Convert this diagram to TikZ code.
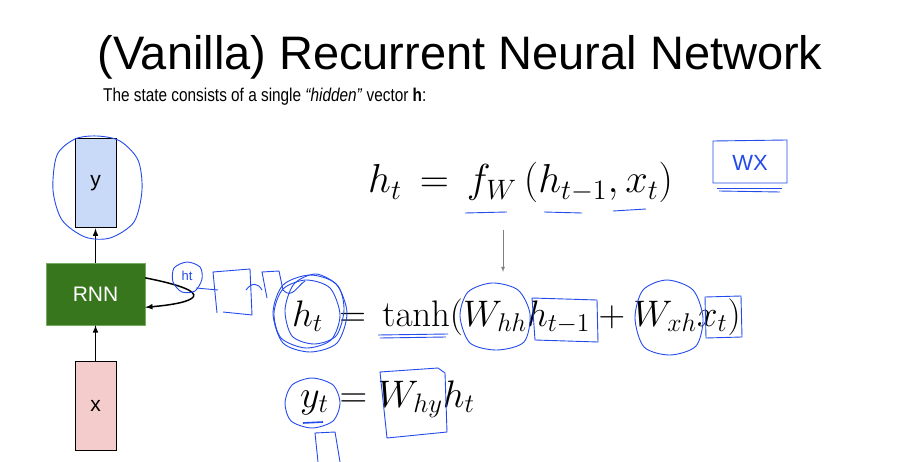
\documentclass[tikz,border=0pt]{standalone}
\usepackage{amsmath}
\usepackage[no-math]{fontspec}
\setmainfont{Liberation Sans}
\usepackage{xcolor}
\usepackage{tikz}
\usetikzlibrary{calc}
\usetikzlibrary{positioning}
\definecolor{yfill}{RGB}{201,218,248}
\definecolor{xfill}{RGB}{244,204,204}
\definecolor{rnnfill}{RGB}{56,118,29}
\definecolor{rnnline}{RGB}{120,170,100}
\definecolor{penblue}{RGB}{35,75,235}

\begin{document}
\begin{tikzpicture}[x=1pt,y=-1pt,
	vecbox/.style={draw,line width=1,minimum width=41,minimum height=89,font=\fontsize{21}{24}\selectfont},
	penline/.style={penblue,line width=0.9},
	eqn/.style={anchor=base west,inner sep=0,font=\fontsize{20.74}{24}\selectfont}]
	\useasboundingbox (0,0) rectangle (907,462);
	
	\node [anchor=base,inner sep=0,font=\fontsize{47}{50}\selectfont] (title) at (460,70) {(Vanilla) Recurrent Neural Network};
	\node [anchor=base west,inner sep=0,font=\fontsize{18.5}{22}\selectfont] (sub) at (103,102) {\scalebox{0.83}[1]{The state consists of a single \textit{“hidden”} vector \textbf{h}:}};
	
	% the network
	\node [vecbox,fill=yfill] (ybox) at (95.5,183.5) {y};
	\node [draw=rnnline,fill=rnnfill,text=white,minimum width=99,minimum height=62,font=\fontsize{21}{24}\selectfont] (rnn) at (95.5,294) {RNN};
	\node [vecbox,fill=xfill] (xbox) at (95.5,405.5) {x};
	
	\draw[line width=1.5,-latex] (rnn) -- (ybox);
	\draw[line width=1.5,-latex] (xbox) -- (rnn);
	\draw[line width=1.5,-latex] (rnn.18) .. controls (222,293) and (195,303) .. (rnn.-15);
	
	% the equations
	\node [eqn] (eqf) at (368,193) {\scalebox{1.95}{$h_t \,=\, f_W\,(h_{t-1}, x_t)$}};
	\node [eqn] (eqh) at (292,326) {\scalebox{1.78}{$h_t \,=\, \tanh(W_{hh}h_{t-1} + W_{xh}x_t)$}};
	\node [eqn] (eqy) at (300,407) {\scalebox{1.85}{$y_t = W_{hy}h_t$}};
	
	\coordinate [] (G1) at (503,230);
	\coordinate [] (G2) at (503,272);
	\draw[gray,line width=0.8,-latex] (G1) -- (G2);
	
	% pen notes
	\draw[penline] plot [smooth cycle] coordinates {(97,136) (120,141) (138,160) (142,190) (134,222) (110,238) (85,237) (62,220) (53,190) (57,155) (75,139)};
	\draw[penline] plot [smooth cycle] coordinates {(187,262) (200,267) (202,279) (195,291) (182,292) (173,282) (174,268)};
	\node [penblue,inner sep=0,font=\fontsize{13}{14}\selectfont] (pht) at (187,276) {ht};
	\draw[penline] (196,288) -- (218,290);
	\draw[penline] (217,313) -- (213,272) -- (250,269) -- (252,315) -- (223,312);
	\draw[penline] (246,290) .. controls (252,282) and (258,283) .. (262,290);
	\draw[penline] (267,298) -- (262,272) -- (279,271) -- (283,290) .. controls (292,300) and (298,285) .. (305,281);
	
	\draw[penline] plot [smooth cycle] coordinates {(310,275) (336,284) (347,313) (337,343) (310,352) (283,343) (273,313) (283,285)};
	\draw[penline] plot [smooth cycle] coordinates {(306,280) (330,288) (340,315) (331,340) (306,348) (281,338) (274,313) (283,289)};
	\draw[penline] plot [smooth cycle] coordinates {(316,274) (338,286) (344,310) (336,336) (314,344) (292,336) (285,310) (294,284)};
	
	\draw[penline] (378,335) -- (448,334);
	\draw[penline] (380,338) -- (446,337);
	\draw[penline] plot [smooth cycle] coordinates {(492,283) (518,290) (530,314) (524,342) (497,350) (470,343) (460,316) (468,292)};
	\draw[penline] (532,298) -- (597,300) -- (598,342) -- (535,340) -- cycle;
	\draw[penline] plot [smooth cycle] coordinates {(667,280) (693,290) (703,318) (696,346) (670,355) (644,347) (635,318) (643,290)};
	\draw[penline] (705,297) -- (741,296) -- (742,337) -- (706,338) -- cycle;
	
	\draw[penline] plot [smooth cycle] coordinates {(312,378) (333,385) (340,403) (333,421) (312,428) (291,421) (285,403) (292,385)};
	\draw[penline,line width=1.6] (303,423) -- (323,422);
	\draw[penline] (318,462) -- (315,433) -- (335,432) -- (340,462);
	\draw[penline] (380,372) -- (438,368) -- (445,373) -- (447,432) -- (387,438) -- cycle;
	
	\draw[penline] (465,213) -- (507,212);
	\draw[penline] (544,212) -- (582,213);
	\draw[penline] (613,211) -- (646,209);
	
	\draw[penline] (713,141) -- (713,183) -- (787,183) -- (787,140) -- cycle;
	\node [penblue,inner sep=0,font=\fontsize{22}{24}\selectfont] (wx) at (750,163) {WX};
	\draw[penline] (717,188) -- (782,188);
	\draw[penline] (719,191) -- (780,192);
	
	\end{tikzpicture}
\end{document}
